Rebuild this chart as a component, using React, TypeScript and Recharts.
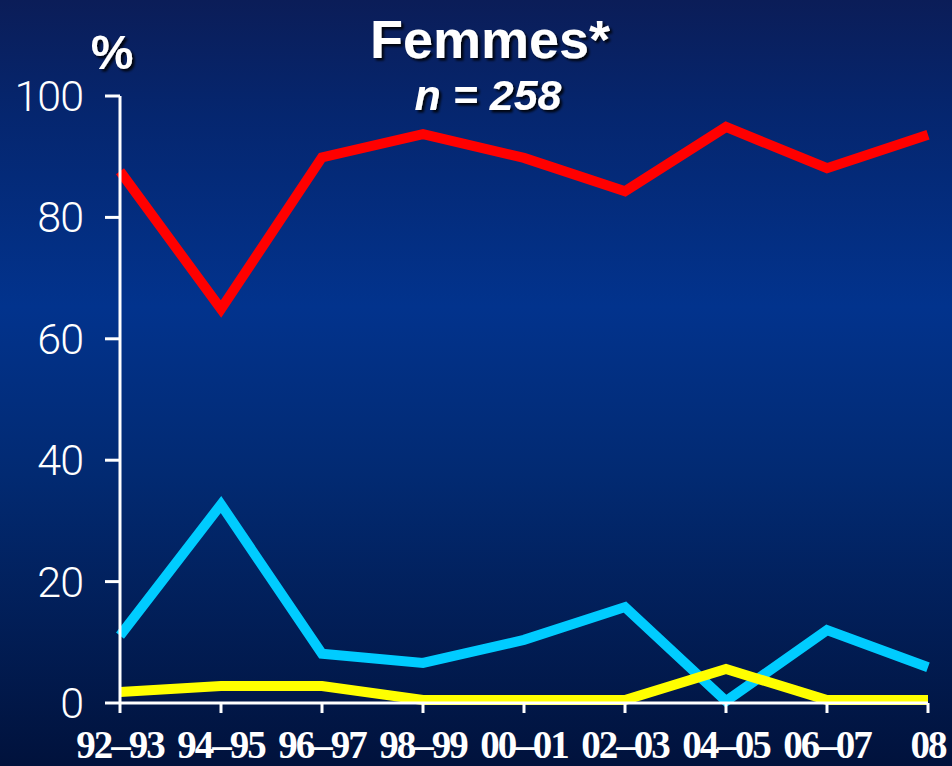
import React from "react";
import { LineChart, Line, XAxis, YAxis } from "recharts";

const periods = ["92–93", "94–95", "96–97", "98–99", "00–01", "02–03", "04–05", "06–07", "08"];
const redSeries = [87.6, 64.9, 89.9, 93.7, 89.8, 84.3, 94.9, 88.1, 93.6];
const blueSeries = [11.1, 32.7, 8.1, 6.6, 10.4, 15.8, 0.3, 12.0, 5.9];
const yellowSeries = [1.8, 2.8, 2.8, 0.5, 0.5, 0.5, 5.6, 0.5, 0.5];
const yTicks = [0, 20, 40, 60, 80, 100];

const data = periods.map((p, i) => ({
  period: p,
  red: redSeries[i],
  blue: blueSeries[i],
  yellow: yellowSeries[i],
}));

const W = 952;
const H = 766;

const XTick = (props: any) => {
  const { x, y, payload } = props;
  return (
    <text
      x={x}
      y={y + 43}
      textAnchor="middle"
      fill="#ffffff"
      fontFamily="'Liberation Serif', 'Times New Roman', serif"
      fontWeight={700}
      fontSize={39}
      letterSpacing={-2}
    >
      {payload.value}
    </text>
  );
};

const YTick = (props: any) => {
  const { x, y, payload } = props;
  return (
    <text
      x={x}
      y={y}
      dy={15}
      textAnchor="end"
      fill="#ffffff"
      fontFamily="Roboto, 'Liberation Sans', sans-serif"
      fontWeight={300}
      fontSize={43}
      letterSpacing={-1}
    >
      {payload.value}
    </text>
  );
};

export default function App() {
  return (
    <div
      style={{
        position: "absolute",
        left: 0,
        top: 0,
        width: W,
        height: H,
        background:
          "linear-gradient(to bottom, #0b1d58 0%, #05266f 15%, #02338d 40%, #022a72 62%, #01123c 100%)",
        overflow: "hidden",
      }}
    >
      <LineChart
        width={W}
        height={H}
        data={data}
        margin={{ top: 96, right: 24, bottom: 0, left: 0 }}
      >
        <XAxis
          dataKey="period"
          height={63}
          interval={0}
          stroke="#ffffff"
          strokeWidth={3}
          tickSize={10}
          tick={<XTick />}
          tickLine={{ stroke: "#ffffff", strokeWidth: 3 }}
          padding={{ left: 0, right: 0 }}
        />
        <YAxis
          width={120}
          domain={[0, 100]}
          ticks={yTicks}
          interval={0}
          stroke="#ffffff"
          strokeWidth={3}
          tickSize={15}
          tickMargin={22}
          tick={<YTick />}
          tickLine={{ stroke: "#ffffff", strokeWidth: 3 }}
        />
        <Line
          dataKey="red"
          stroke="#ff0000"
          strokeWidth={10}
          dot={false}
          type="linear"
          isAnimationActive={false}
        />
        <Line
          dataKey="blue"
          stroke="#00ccff"
          strokeWidth={10}
          dot={false}
          type="linear"
          isAnimationActive={false}
        />
        <Line
          dataKey="yellow"
          stroke="#ffff00"
          strokeWidth={10}
          dot={false}
          type="linear"
          isAnimationActive={false}
        />
      </LineChart>
      <svg
        width={W}
        height={H}
        style={{ position: "absolute", left: 0, top: 0, pointerEvents: "none" }}
      >
        <defs>
          <filter id="ts" x="-20%" y="-20%" width="140%" height="140%">
            <feDropShadow dx="2.5" dy="2.5" stdDeviation="1" floodColor="#000000" floodOpacity="0.85" />
          </filter>
        </defs>
        <g filter="url(#ts)" fill="#ffffff" fontFamily="'Liberation Sans', Arial, sans-serif" fontWeight={700}>
          <text x={490} y={58} textAnchor="middle" fontSize={54}>
            Femmes*
          </text>
          <text x={488} y={110} textAnchor="middle" fontSize={43} fontStyle="italic">
            n = 258
          </text>
          <text x={112} y={69} textAnchor="middle" fontSize={48}>
            %
          </text>
        </g>
      </svg>
    </div>
  );
}
